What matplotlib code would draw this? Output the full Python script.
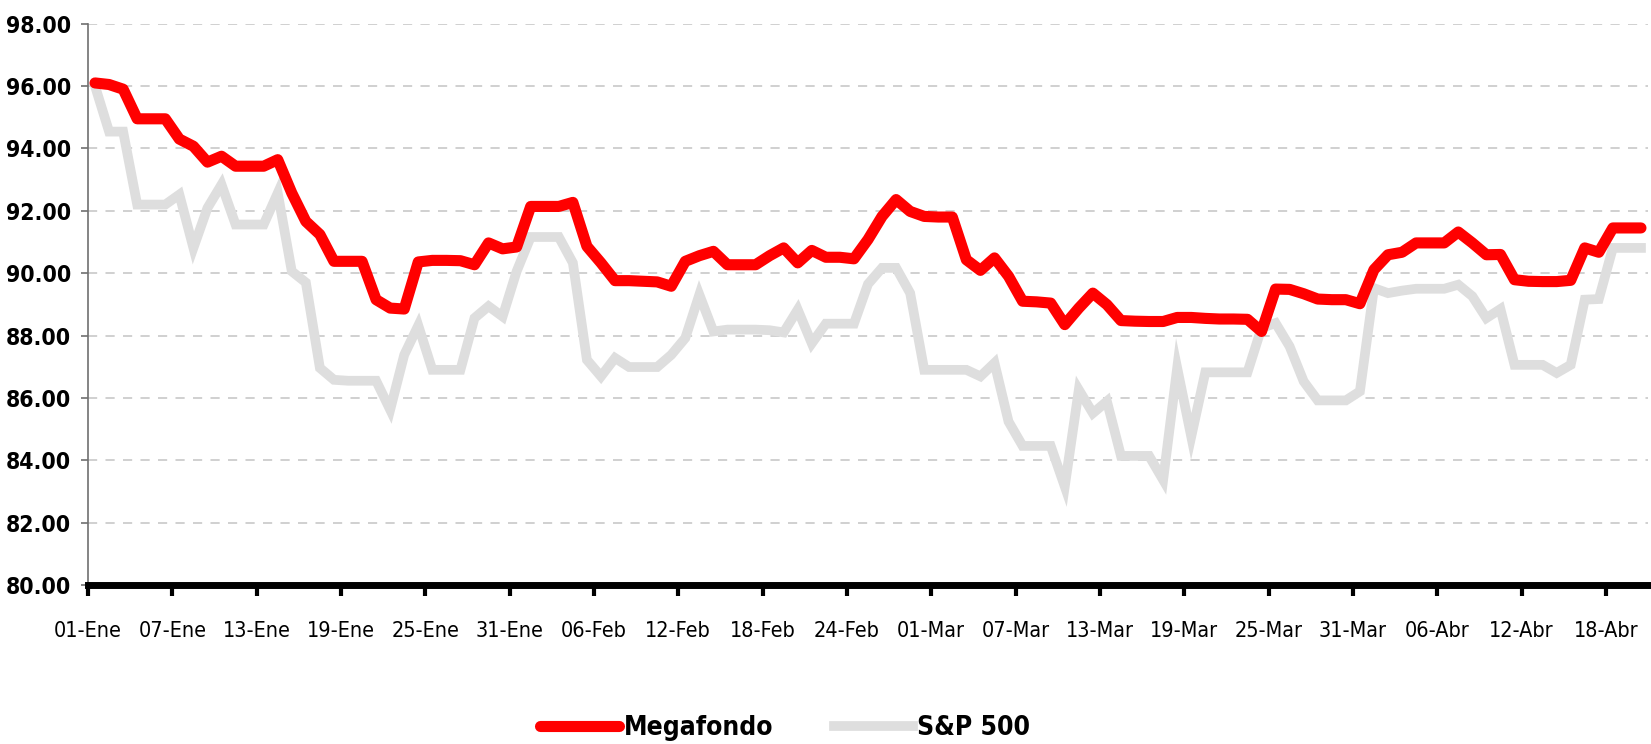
import matplotlib
matplotlib.use("Agg")
import matplotlib.pyplot as plt
from matplotlib import font_manager
import numpy as np

# daily values, 01-Ene .. 20-Abr (weekends repeat Friday's close)
megafondo = [
    96.10, 96.05, 95.90, 94.95, 94.95, 94.95, 94.30, 94.07, 93.56, 93.75,
    93.43, 93.43, 93.43, 93.64, 92.57, 91.66, 91.24, 90.38, 90.38, 90.38,
    89.15, 88.88, 88.85, 90.36, 90.41, 90.41, 90.40, 90.27, 90.97, 90.78,
    90.84, 92.14, 92.14, 92.14, 92.27, 90.86, 90.33, 89.76, 89.76, 89.74,
    89.72, 89.58, 90.38, 90.56, 90.70, 90.27, 90.27, 90.27, 90.56, 90.81,
    90.33, 90.73, 90.51, 90.51, 90.46, 91.08, 91.82, 92.36, 91.98, 91.82,
    91.80, 91.80, 90.43, 90.09, 90.49, 89.90, 89.10, 89.08, 89.04, 88.35,
    88.88, 89.36, 88.99, 88.48, 88.46, 88.45, 88.45, 88.58, 88.58, 88.55,
    88.53, 88.53, 88.52, 88.13, 89.49, 89.48, 89.34, 89.17, 89.15, 89.15,
    89.02, 90.11, 90.59, 90.67, 90.97, 90.97, 90.97, 91.32, 90.97, 90.59,
    90.60, 89.79, 89.74, 89.73, 89.73, 89.77, 90.81, 90.67, 91.45, 91.45,
    91.45,
]
sp500 = [
    96.00, 94.54, 94.54, 92.20, 92.20, 92.20, 92.52, 90.81, 92.09, 92.84,
    91.56, 91.56, 91.56, 92.57, 90.06, 89.70, 86.96, 86.58, 86.55, 86.55,
    86.55, 85.62, 87.38, 88.32, 86.90, 86.90, 86.90, 88.56, 88.94, 88.61,
    90.06, 91.16, 91.16, 91.16, 90.33, 87.22, 86.69, 87.28, 86.99, 86.99,
    86.99, 87.38, 87.92, 89.31, 88.13, 88.19, 88.19, 88.19, 88.17, 88.10,
    88.83, 87.75, 88.38, 88.38, 88.38, 89.65, 90.17, 90.17, 89.36, 86.90,
    86.90, 86.90, 86.90, 86.69, 87.12, 85.24, 84.46, 84.46, 84.46, 83.16,
    86.26, 85.51, 85.89, 84.14, 84.14, 84.14, 83.37, 86.96, 84.76, 86.82,
    86.82, 86.82, 86.82, 88.24, 88.40, 87.65, 86.53, 85.92, 85.92, 85.92,
    86.21, 89.52, 89.36, 89.44, 89.50, 89.50, 89.50, 89.63, 89.26, 88.56,
    88.85, 87.06, 87.06, 87.06, 86.80, 87.06, 89.15, 89.17, 90.81, 90.81,
    90.81,
]
tick_labels = ["01-Ene", "07-Ene", "13-Ene", "19-Ene", "25-Ene", "31-Ene",
               "06-Feb", "12-Feb", "18-Feb", "24-Feb", "01-Mar", "07-Mar",
               "13-Mar", "19-Mar", "25-Mar", "31-Mar", "06-Abr", "12-Abr",
               "18-Abr"]


def narrow_font(bold):
    # look for an installed narrow / condensed face, else plain Liberation Sans
    want = 'bold' if bold else 'normal'
    found = []
    for f in font_manager.fontManager.ttflist:
        name = (f.name + ' ' + f.fname).lower()
        is_narrow = 'narrow' in name or 'condensed' in name or f.stretch in ('condensed', 'semi-condensed')
        w = 'bold' if (f.weight == 'bold' or (isinstance(f.weight, int) and f.weight >= 600)) else 'normal'
        if is_narrow and w == want and f.style == 'normal':
            pri = 0 if 'liberation' in name else (1 if 'dejavu sans' in name and 'mono' not in name else 2)
            found.append((pri, f.fname))
    if found:
        found.sort()
        return font_manager.FontProperties(fname=found[0][1])
    return font_manager.FontProperties(family='Liberation Sans', weight=want)


fp_bold = narrow_font(True)
fp_reg = narrow_font(False)

days = np.arange(len(megafondo))

fig = plt.figure(figsize=(16.51, 7.44), dpi=100)
ax = fig.add_axes([88 / 1651, 1 - 585 / 744, (1648 - 88) / 1651, (585 - 23.7) / 744])

ax.plot(days, sp500, color='#dedede', lw=7, solid_joinstyle='miter', label='S&P 500', zorder=2)
ax.plot(days, megafondo, color='#ff0000', lw=8, solid_capstyle='round',
        solid_joinstyle='round', label='Megafondo', zorder=3)

ax.set_xlim(-0.5, len(days) - 0.5)
ax.set_ylim(80, 98)
yt = np.arange(80, 98.1, 2)
ax.set_yticks(yt)
ax.set_yticklabels([f"{v:.2f}" for v in yt])
for t in ax.get_yticklabels():
    t.set_fontproperties(fp_bold)
    t.set_fontsize(16.5)
ax.set_xticks(-0.5 + 6 * np.arange(len(tick_labels)))
ax.set_xticklabels(tick_labels)
for t in ax.get_xticklabels():
    t.set_fontproperties(fp_reg)
    t.set_fontsize(15.5)

ax.yaxis.grid(True, color='#c8c8c8', linestyle=(0, (5.5, 5)), lw=1.2)
ax.set_axisbelow(True)

for s in ['top', 'right']:
    ax.spines[s].set_visible(False)
ax.spines['left'].set_color('#707070')
ax.spines['left'].set_linewidth(1.2)
ax.spines['bottom'].set_color('black')
ax.spines['bottom'].set_linewidth(5)
ax.spines['bottom'].set_zorder(4)

ax.tick_params(axis='y', length=5, width=1.2, color='#707070', pad=7)
ax.tick_params(axis='x', length=8, width=3, color='black', pad=18)

handles, labels = ax.get_legend_handles_labels()
leg_fp = fp_bold.copy()
leg_fp.set_size(19)
fig.legend(handles[::-1], labels[::-1], loc='center', bbox_to_anchor=(785 / 1651, 1 - 728 / 744),
           ncol=2, frameon=False, handlelength=3.0, handletextpad=0.15, columnspacing=2.3,
           prop=leg_fp)

fig.savefig('out.png', dpi=100)
